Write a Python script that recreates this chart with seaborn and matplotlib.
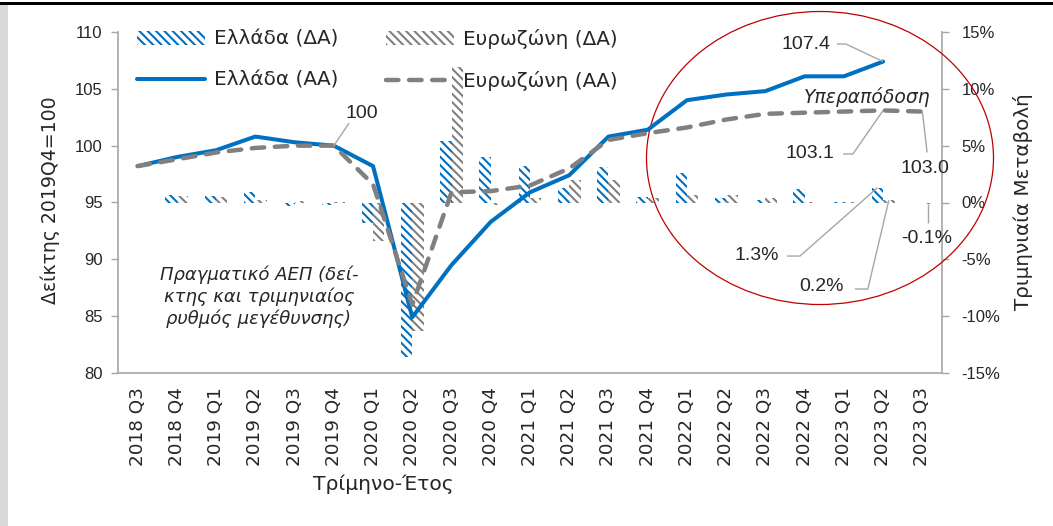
import numpy as np
import pandas as pd
import matplotlib
matplotlib.use("Agg")
import matplotlib.pyplot as plt
import seaborn as sns
from matplotlib.patches import Patch, Ellipse, Rectangle
from matplotlib.lines import Line2D

# ---------------- data ----------------
quarters = ["2018 Q3", "2018 Q4", "2019 Q1", "2019 Q2", "2019 Q3", "2019 Q4",
            "2020 Q1", "2020 Q2", "2020 Q3", "2020 Q4", "2021 Q1", "2021 Q2",
            "2021 Q3", "2021 Q4", "2022 Q1", "2022 Q2", "2022 Q3", "2022 Q4",
            "2023 Q1", "2023 Q2", "2023 Q3"]
greece_index = [98.2, 99.0, 99.6, 100.8, 100.3, 100.0, 98.2, 84.9, 89.5, 93.3,
                95.9, 97.4, 100.8, 101.4, 104.0, 104.5, 104.8, 106.1, 106.1,
                107.4, np.nan]
euro_index = [98.2, 98.8, 99.4, 99.8, 100.0, 100.0, 96.6, 86.0, 95.9, 96.0,
              96.5, 98.0, 100.5, 101.1, 101.6, 102.3, 102.8, 102.9, 103.0,
              103.1, 103.0]
greece_qoq = [np.nan, 0.7, 0.6, 0.95, -0.35, -0.2, -1.8, -13.6, 5.4, 4.0,
              3.2, 1.3, 3.1, 0.5, 2.6, 0.4, 0.2, 1.2, 0.05, 1.3, np.nan]
euro_qoq = [np.nan, 0.6, 0.5, 0.2, 0.1, 0.05, -3.4, -11.3, 11.9, -0.2,
            0.4, 2.0, 2.0, 0.4, 0.65, 0.7, 0.4, 0.05, 0.05, 0.2, -0.1]

bar_labels = ["Ελλάδα (ΔΑ)", "Ευρωζώνη (ΔΑ)"]
line_labels = ["Ελλάδα (ΑΑ)", "Ευρωζώνη (ΑΑ)"]

# ---------------- style ----------------
BLUE = "#0070C0"
GRAY = "#808080"
AXC = "#A6A6A6"
TXT = "#262626"
RED = "#C00000"
HATCH = "\\\\\\\\"
NUM = ["Liberation Sans", "DejaVu Sans"]

sns.set_theme(style="white")
plt.rcParams["font.family"] = ["DejaVu Sans"]
plt.rcParams["hatch.linewidth"] = 1.5

W, H = 1053, 526
fig = plt.figure(figsize=(W / 100, H / 100), dpi=100)
ax = fig.add_axes([118 / W, 1 - 373 / H, 824 / W, 341 / H])
ax2 = ax.twinx()

n = len(quarters)
x = np.arange(n)

# bars (right axis)
bars = pd.DataFrame({
    "q": quarters * 2,
    "series": [bar_labels[0]] * n + [bar_labels[1]] * n,
    "val": greece_qoq + euro_qoq,
})
sns.barplot(data=bars, x="q", y="val", hue="series", order=quarters,
            hue_order=bar_labels, palette=[BLUE, GRAY], width=0.58,
            dodge=True, saturation=1, errorbar=None, legend=False, ax=ax2)
for p in ax2.patches:
    fc = p.get_facecolor()
    p.set_edgecolor(fc)
    p.set_facecolor("white")
    p.set_hatch(HATCH)
    p.set_linewidth(0)

# lines (left axis)
sns.lineplot(x=x, y=pd.Series(greece_index), ax=ax, color=BLUE, lw=2.9,
             solid_capstyle="round", solid_joinstyle="round")
sns.lineplot(x=x, y=pd.Series(euro_index), ax=ax, color=GRAY, lw=3.2,
             linestyle=(0, (2.8, 2.4)))
for ln in ax.get_lines():
    ln.set_dash_capstyle("round")

ax.set_zorder(ax2.get_zorder() + 1)
ax.patch.set_visible(False)

# ---------------- annotations ----------------
lead = dict(color=AXC, lw=1.0, solid_capstyle="butt")
afs = 14
ax.text(5.72, 102.87, "100", ha="center", va="center", fontsize=afs, family=NUM, color=TXT)
ax.plot([5.39, 5.0], [101.99, greece_index[5]], **lead)

ax.text(17.03, 108.86, "107.4", ha="center", va="center", fontsize=afs, family=NUM, color=TXT)
ax.plot([17.82, 18.05, 19], [108.94, 108.94, greece_index[19]], **lead)

ax.text(17.14, 99.31, "103.1", ha="center", va="center", fontsize=afs, family=NUM, color=TXT)
ax.plot([17.98, 18.23, 19], [99.27, 99.27, euro_index[19]], **lead)

ax.text(20.07, 97.95, "103.0", ha="center", va="center", fontsize=afs, family=NUM, color=TXT)
ax.plot([20.0, 20.12], [euro_index[20], 99.4], **lead)

ax2.text(20.12, -3.21, "-0.1%", ha="center", va="center", fontsize=afs, family=NUM, color=TXT)
ax2.plot([20.145, 20.145], [euro_qoq[20], -1.8], **lead)

ax2.text(15.78, -4.62, "1.3%", ha="center", va="center", fontsize=afs, family=NUM, color=TXT)
ax2.plot([16.55, 16.88, 18.855], [-4.71, -4.71, greece_qoq[19]], **lead)

ax2.text(17.44, -7.43, "0.2%", ha="center", va="center", fontsize=afs, family=NUM, color=TXT)
ax2.plot([18.28, 18.61, 19.145], [-7.61, -7.61, euro_qoq[19]], **lead)

ax.text(18.59, 104.28, "Υπεραπόδοση", ha="center", va="center", fontsize=13.5,
        style="italic", color=TXT)
ax.text(3.09, 86.69, "Πραγματικό ΑΕΠ (δεί-\nκτης και τριμηνιαίος\nρυθμός μεγέθυνσης)",
        ha="center", va="center", fontsize=13, style="italic", color=TXT,
        linespacing=1.25)

# ---------------- axes ----------------
ax.set_xlim(-0.5, n - 0.5)
ax.set_ylim(80, 110)
ax2.set_ylim(-15, 15)

yt = list(range(80, 111, 5))
ax.set_yticks(yt, labels=[str(v) for v in yt], family=NUM, fontsize=12, color=TXT)
yt2 = list(range(-15, 16, 5))
ax2.set_yticks(yt2, labels=[f"{v}%" for v in yt2], family=NUM, fontsize=12, color=TXT)
ax.set_xticks(x, labels=quarters, rotation=90, fontsize=13.2, color=TXT)
ax.set_xticks(np.arange(-0.5, n, 1), minor=True)

ax.tick_params(axis="x", which="major", length=0, pad=10)
ax.tick_params(axis="x", which="minor", length=5, width=1, color=AXC, direction="out")
ax.tick_params(axis="y", length=5, width=1, color=AXC, direction="out", pad=6, left=True)
ax2.tick_params(axis="y", length=5, width=1, color=AXC, direction="out", pad=9, right=True)

for s in ["top", "right"]:
    ax.spines[s].set_visible(False)
for s in ["left", "bottom"]:
    ax.spines[s].set_color(AXC)
    ax.spines[s].set_linewidth(1.2)
for s in ["top", "left", "bottom"]:
    ax2.spines[s].set_visible(False)
ax2.spines["right"].set_color(AXC)
ax2.spines["right"].set_linewidth(1.2)
ax.grid(False)
ax2.grid(False)

ax.set_ylabel("Δείκτης 2019Q4=100", fontsize=13.6, color=TXT)
ax.yaxis.set_label_coords(-0.0704, 0.507)
ax2.set_ylabel("Τριμηνιαία Μεταβολή", fontsize=14.3, color=TXT)
ax2.yaxis.set_label_coords(1.0862, 0.5015)
ax.set_xlabel("Τρίμηνο-Έτος", fontsize=14.6, color=TXT)
ax.xaxis.set_label_coords(0.3216, -0.299)

# ---------------- legend ----------------
handles = [
    Patch(facecolor="white", edgecolor=BLUE, hatch=HATCH, lw=0, label=bar_labels[0]),
    Line2D([], [], color=BLUE, lw=2.9, solid_capstyle="round", label=line_labels[0]),
    Patch(facecolor="white", edgecolor=GRAY, hatch=HATCH, lw=0, label=bar_labels[1]),
    Line2D([], [], color=GRAY, lw=3.2, linestyle=(0, (2.8, 2.4)),
           dash_capstyle="round", label=line_labels[1]),
]
leg = ax.legend(handles=handles, ncol=2, loc="upper left",
                bbox_to_anchor=(0.023, 1.0088), frameon=False, fontsize=14.4,
                handlelength=3.4, handletextpad=0.45, columnspacing=2.4,
                labelspacing=1.08, borderpad=0, borderaxespad=0)
for t in leg.get_texts():
    t.set_color(TXT)

# ---------------- decorations ----------------
fig.add_artist(Ellipse((820 / W, 1 - 158 / H), 347 / W, 293 / H,
                       transform=fig.transFigure, fill=False, ec=RED, lw=0.9))
fig.add_artist(Rectangle((0, 1 - 5 / H), 1, 3 / H, transform=fig.transFigure,
                         color="black", lw=0))
fig.add_artist(Rectangle((0, 0), 8 / W, 1 - 5 / H, transform=fig.transFigure,
                         color="#D9D9D9", lw=0))

fig.savefig("out.png", dpi=100)
